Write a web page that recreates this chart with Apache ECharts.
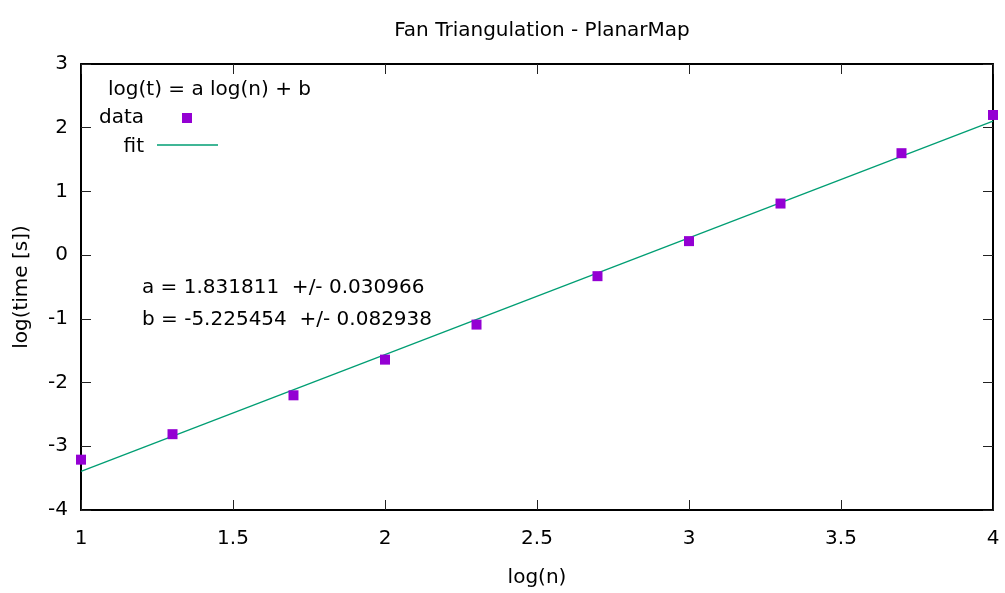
<!DOCTYPE html>
<html>
<head>
<meta charset="utf-8">
<script src="https://cdn.jsdelivr.net/npm/echarts@6/dist/echarts.min.js"></script>
<style>
  html, body { margin: 0; padding: 0; background: #fff; }
  #chart { width: 1005px; height: 593px; }
</style>
</head>
<body>
<div id="chart"></div>
<script>
// Measured run times: log10(n) against log10(time in seconds)
const logN = [1.0, 1.30103, 1.69897, 2.0, 2.30103, 2.69897, 3.0, 3.30103, 3.69897, 4.0];
const logT = [-3.21, -2.81, -2.20, -1.64, -1.09, -0.33, 0.22, 0.81, 1.60, 2.20];

// Least-squares fit parameters: log(t) = a log(n) + b
const fitA = 1.831811, fitAErr = 0.030966;
const fitB = -5.225454, fitBErr = 0.082938;
const fitRange = [1, 4];

const xTicks = { min: 1, max: 4, interval: 0.5 };
const yTicks = { min: -4, max: 3, interval: 1 };

const FONT = 'DejaVu Sans';
const FS = 20;
const dataColor = '#9400D3';
const fitColor = '#009E73';

const chart = echarts.init(document.getElementById('chart'), null, { renderer: 'canvas' });

const points = logN.map((x, i) => [x, logT[i]]);
const fitLine = fitRange.map(x => [x, fitA * x + fitB]);

const frameLine = { show: true, onZero: false, lineStyle: { color: '#000', width: 2 } };
const tick = { show: true, inside: true, length: 10, lineStyle: { color: '#222', width: 1 } };
const txt = { fontFamily: FONT, fontSize: FS, color: '#000' };
const font = FS + 'px "' + FONT + '"';

chart.setOption({
  animation: false,
  backgroundColor: '#fff',
  // title centred over the plot frame rather than the whole canvas
  title: {
    text: 'Fan Triangulation - PlanarMap',
    left: 537,
    textAlign: 'center',
    top: 16,
    textStyle: { fontFamily: FONT, fontSize: FS, fontWeight: 'normal', color: '#000' }
  },
  grid: { left: 81, right: 12, top: 64, bottom: 82, containLabel: false },
  xAxis: [
    {
      type: 'value', position: 'bottom', ...xTicks,
      name: 'log(n)', nameLocation: 'middle', nameGap: 58,
      nameTextStyle: txt,
      axisLine: frameLine, axisTick: tick,
      axisLabel: { margin: 19, ...txt },
      splitLine: { show: false }
    },
    {
      type: 'value', position: 'top', ...xTicks,
      axisLine: frameLine, axisTick: tick,
      axisLabel: { show: false }, splitLine: { show: false }
    }
  ],
  yAxis: [
    {
      type: 'value', position: 'left', ...yTicks,
      name: 'log(time [s])', nameLocation: 'middle', nameGap: 49,
      nameTextStyle: txt,
      axisLine: frameLine, axisTick: tick,
      axisLabel: { margin: 13, ...txt },
      splitLine: { show: false }
    },
    {
      type: 'value', position: 'right', ...yTicks,
      axisLine: frameLine, axisTick: tick,
      axisLabel: { show: false }, splitLine: { show: false }
    }
  ],
  series: [
    {
      name: 'fit', type: 'line', data: fitLine,
      showSymbol: false, symbol: 'none',
      lineStyle: { color: fitColor, width: 1.3 },
      z: 2
    },
    {
      name: 'data', type: 'scatter', data: points,
      symbol: 'rect', symbolSize: 10,
      itemStyle: { color: dataColor, opacity: 1 },
      z: 3
    }
  ],
  graphic: [
    { type: 'text', x: 108, y: 90,
      style: { text: 'log(t) = a log(n) + b', font: font, fill: '#000', align: 'left', verticalAlign: 'middle' } },
    { type: 'text', x: 144, y: 118,
      style: { text: 'data', font: font, fill: '#000', align: 'right', verticalAlign: 'middle' } },
    { type: 'rect', shape: { x: 182, y: 113, width: 10, height: 10 },
      style: { fill: dataColor } },
    { type: 'text', x: 144, y: 147,
      style: { text: 'fit', font: font, fill: '#000', align: 'right', verticalAlign: 'middle' } },
    { type: 'line', shape: { x1: 157, y1: 145, x2: 218, y2: 145 },
      style: { stroke: fitColor, lineWidth: 1.3 } },
    { type: 'text', x: 142, y: 288,
      style: { text: 'a = ' + fitA.toFixed(6) + '  +/- ' + fitAErr.toFixed(6), font: font, fill: '#000', align: 'left', verticalAlign: 'middle' } },
    { type: 'text', x: 142, y: 320,
      style: { text: 'b = ' + fitB.toFixed(6) + '  +/- ' + fitBErr.toFixed(6), font: font, fill: '#000', align: 'left', verticalAlign: 'middle' } }
  ]
});
</script>
</body>
</html>
